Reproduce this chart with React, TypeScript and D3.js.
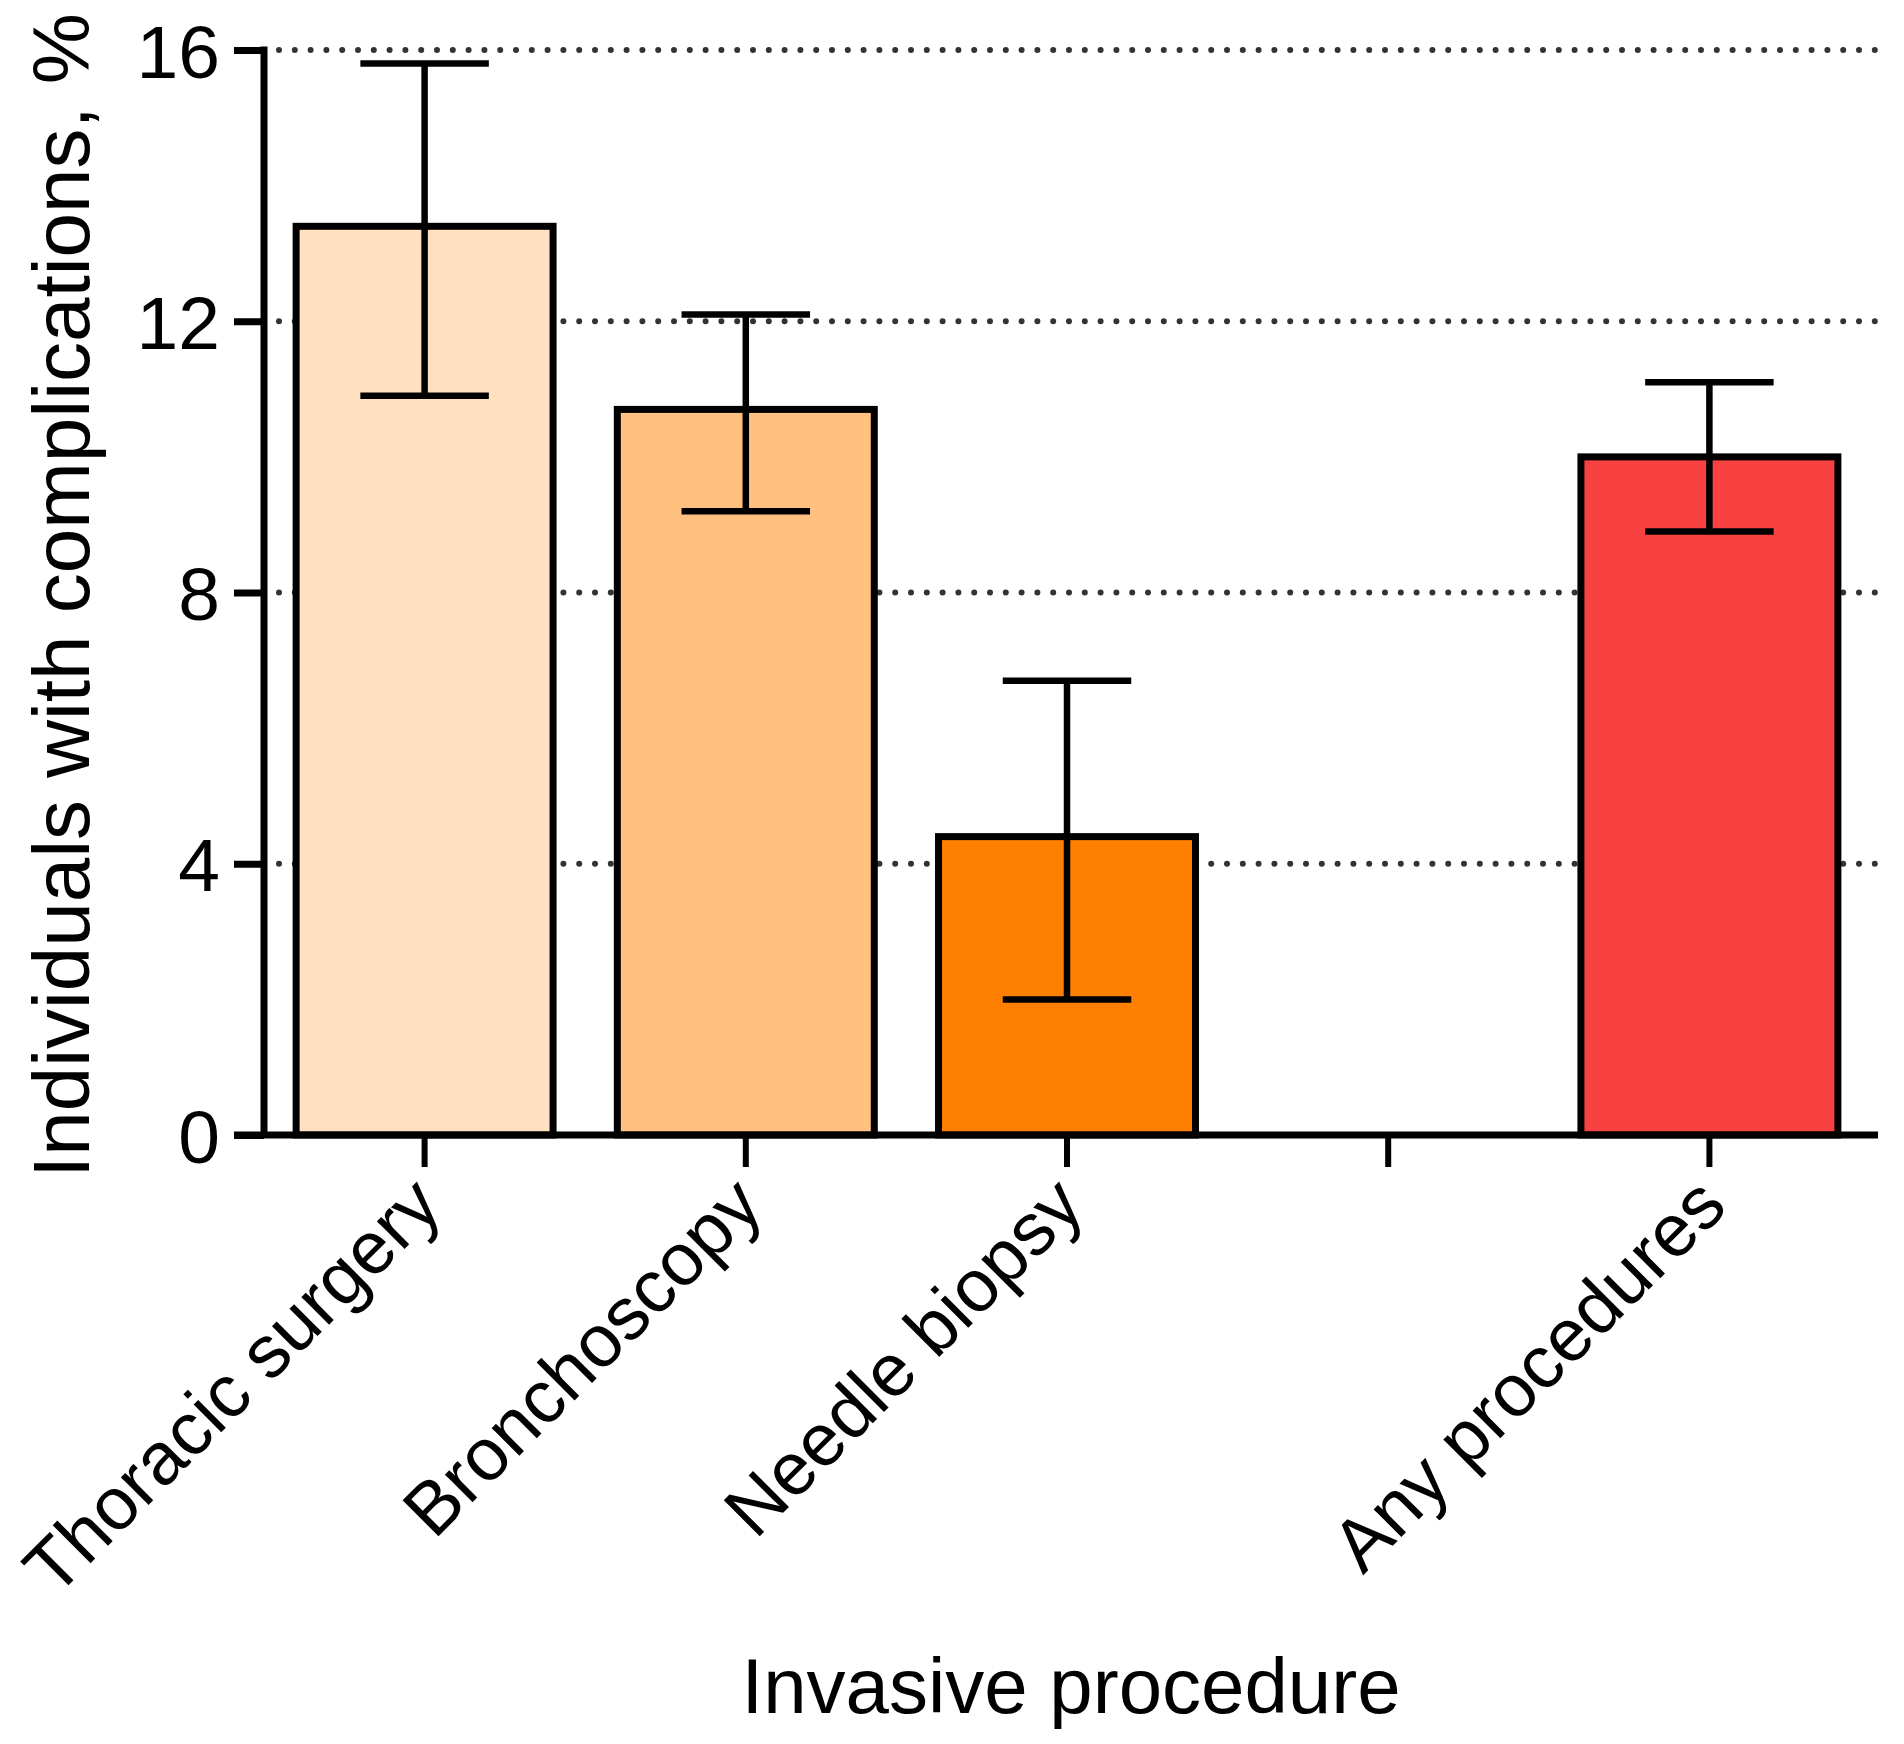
import React, { useEffect, useRef } from 'react';
import * as d3 from 'd3';

// values
const categories = ['Thoracic surgery', 'Bronchoscopy', 'Needle biopsy', '', 'Any procedures'];
const means = [13.4, 10.7, 4.4, null, 10.0];
const lower = [10.9, 9.2, 2.0, null, 8.9];
const upper = [15.8, 12.1, 6.7, null, 11.1];
const colors = ['#FFE0C0', '#FFC080', '#FF8000', 'none', '#F84242'];
const yTicks = [0, 4, 8, 12, 16];

const W = 1904;
const H = 1744;
const FONT = 'Arial, "Liberation Sans", sans-serif';

const App: React.FC = () => {
  const svgRef = useRef<SVGSVGElement>(null);

  useEffect(() => {
    document.body.style.margin = '0';
    if (!svgRef.current) return;
    const svg = d3.select(svgRef.current);
    svg.selectAll('*').remove();

    const left = 264;
    const right = 1870;
    const top = 50;
    const bottom = 1135;

    const x = d3.scaleBand<string>()
      .domain(categories.map((c, i) => String(i)))
      .range([left, right])
      .paddingInner(0.2)
      .paddingOuter(0.1);
    const y = d3.scaleLinear().domain([0, 16]).range([bottom, top]);

    // dotted grid lines
    svg.append('g')
      .selectAll('line')
      .data(yTicks.filter(t => t > 0))
      .enter()
      .append('line')
      .attr('x1', left + 15)
      .attr('x2', right + 8)
      .attr('y1', d => y(d))
      .attr('y2', d => y(d))
      .attr('stroke', '#333')
      .attr('stroke-width', 6)
      .attr('stroke-linecap', 'round')
      .attr('stroke-dasharray', '0 15.8');

    const idx = d3.range(categories.length).filter(i => means[i] !== null);

    // bars
    svg.append('g')
      .selectAll('rect')
      .data(idx)
      .enter()
      .append('rect')
      .attr('x', i => x(String(i))!)
      .attr('width', x.bandwidth())
      .attr('y', i => y(means[i] as number))
      .attr('height', i => bottom - y(means[i] as number))
      .attr('fill', i => colors[i])
      .attr('stroke', '#000')
      .attr('stroke-width', 7);

    // error bars
    const capW = x.bandwidth() * 0.5;
    const eb = svg.append('g').attr('stroke', '#000').attr('stroke-width', 6.5);
    idx.forEach(i => {
      const cx = x(String(i))! + x.bandwidth() / 2;
      const lo = y(lower[i] as number);
      const hi = y(upper[i] as number);
      eb.append('line').attr('x1', cx).attr('x2', cx).attr('y1', hi).attr('y2', lo);
      eb.append('line').attr('x1', cx - capW / 2).attr('x2', cx + capW / 2).attr('y1', hi).attr('y2', hi);
      eb.append('line').attr('x1', cx - capW / 2).attr('x2', cx + capW / 2).attr('y1', lo).attr('y2', lo);
    });

    // y axis
    const yAxis = svg.append('g')
      .attr('transform', `translate(${left},0)`)
      .call(d3.axisLeft(y).tickValues(yTicks).tickSize(30).tickPadding(14).tickFormat(d3.format('d')));
    yAxis.select('.domain').attr('stroke-width', 7).attr('d', `M0,${top - 3.5}V${bottom}`);
    yAxis.selectAll('.tick line').attr('stroke-width', 7);
    yAxis.selectAll('.tick text')
      .attr('font-family', FONT)
      .attr('font-size', 75)
      .attr('fill', '#000')
      .attr('dy', '0.36em');

    // x axis
    const xAxis = svg.append('g')
      .attr('transform', `translate(0,${bottom})`)
      .call(d3.axisBottom(x).tickSize(32).tickFormat(() => ''));
    xAxis.select('.domain').attr('stroke-width', 7).attr('d', `M${left - 30},0H${right + 8}`);
    xAxis.selectAll('.tick line').attr('stroke-width', 6);

    // rotated category labels
    svg.append('g')
      .selectAll('text')
      .data(categories.map((c, i) => ({ c, i })))
      .enter()
      .append('text')
      .attr('transform', d => `translate(${x(String(d.i))! + x.bandwidth() / 2 + 20},${bottom + 74}) rotate(-45)`)
      .attr('text-anchor', 'end')
      .attr('font-family', FONT)
      .attr('font-size', 74)
      .attr('fill', '#000')
      .text(d => d.c);

    // axis titles
    svg.append('text')
      .attr('transform', `translate(89,${(top + bottom) / 2 + 3}) rotate(-90)`)
      .attr('text-anchor', 'middle')
      .attr('font-family', FONT)
      .attr('font-size', 80)
      .attr('fill', '#000')
      .text('Individuals with complications, %');

    svg.append('text')
      .attr('x', (left + right) / 2 + 4)
      .attr('y', 1713)
      .attr('text-anchor', 'middle')
      .attr('font-family', FONT)
      .attr('font-size', 78)
      .attr('fill', '#000')
      .text('Invasive procedure');
  }, []);

  return (
    <div style={{ width: W, height: H, background: '#fff' }}>
      <svg ref={svgRef} width={W} height={H} style={{ display: 'block' }} />
    </div>
  );
};

export default App;
